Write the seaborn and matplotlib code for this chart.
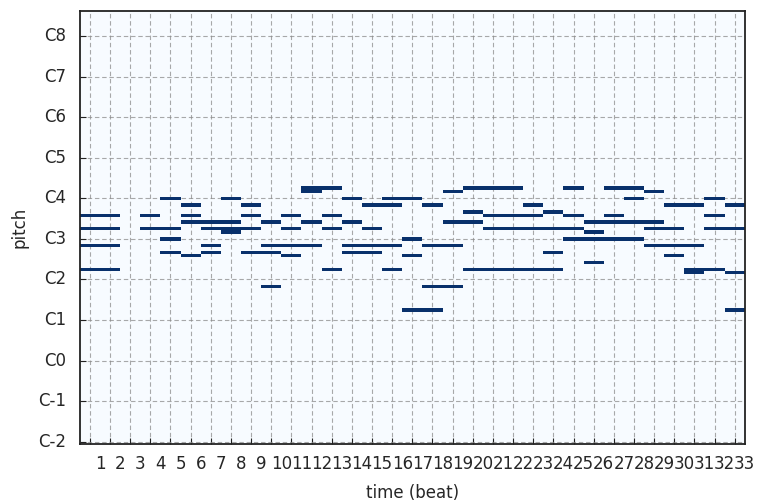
import numpy as np
import matplotlib
matplotlib.use("Agg")
import matplotlib.pyplot as plt
import seaborn as sns

# ---- data: active beats (0-based time steps) for each MIDI pitch ----
n_beats = 33
n_pitches = 128
ytick_labels = ["C-2", "C-1", "C0", "C1", "C2", "C3", "C4", "C5", "C6", "C7", "C8"]
xtick_labels = [str(i) for i in range(1, n_beats + 1)]

beats_p75 = [11, 12, 19, 20, 21, 24, 26, 27]
beats_p74 = [11, 18, 28]
beats_p72 = [4, 7, 13, 15, 16, 27, 31]
beats_p70 = [5, 8, 14, 15, 17, 22, 29, 30, 32]
beats_p68 = [19, 23]
beats_p67 = [0, 1, 3, 5, 8, 10, 12, 20, 21, 22, 24, 26, 31]
beats_p65 = [5, 6, 7, 9, 11, 13, 18, 19, 25, 26, 27, 28]
beats_p63 = [0, 1, 3, 4, 6, 7, 8, 10, 12, 14, 20, 21, 22, 23, 24, 28, 29, 31, 32]
beats_p62 = [7, 25]
beats_p60 = [4, 16, 24, 25, 26, 27]
beats_p58 = [0, 1, 6, 9, 10, 11, 13, 14, 15, 17, 18, 28, 29, 30]
beats_p56 = [4, 6, 8, 9, 13, 14, 23]
beats_p55 = [5, 10, 16, 29]
beats_p53 = [25]
beats_p51 = [0, 1, 12, 15, 19, 20, 21, 22, 23, 30, 31]
beats_p50 = [30, 32]
beats_p46 = [9, 17, 18]
beats_p39 = [16, 17, 32]

pitch_rows = {
    75: beats_p75, 74: beats_p74, 72: beats_p72, 70: beats_p70, 68: beats_p68,
    67: beats_p67, 65: beats_p65, 63: beats_p63, 62: beats_p62, 60: beats_p60,
    58: beats_p58, 56: beats_p56, 55: beats_p55, 53: beats_p53, 51: beats_p51,
    50: beats_p50, 46: beats_p46, 39: beats_p39,
}

roll = np.zeros((n_pitches, n_beats))
for p, beats in pitch_rows.items():
    roll[p, beats] = 1.0

text_color = "#262626"
cmap = plt.get_cmap("Blues")

fig = plt.figure(figsize=(7.6, 5.04), dpi=100)
ax = fig.add_axes([0.105, 0.12, 0.875, 0.859])
ax.set_facecolor(cmap(0.0))
sns.heatmap(roll, mask=(roll == 0), cmap=cmap, vmin=0, vmax=1, cbar=False, ax=ax)
ax.set_ylim(0, n_pitches)
ax.set_xlim(0, n_beats)

ax.set_yticks(np.arange(0, n_pitches, 12) + 0.5)
ax.set_yticklabels(ytick_labels, rotation=0, fontsize=12, color=text_color)
ax.set_xticks(np.arange(n_beats) + 0.5)
ax.set_xticklabels([])
ax.set_xticks(np.arange(1, n_beats + 1), minor=True)
ax.set_xticklabels(xtick_labels, minor=True, fontsize=12, color=text_color)
ax.tick_params(axis="x", which="minor", length=0, pad=8)
ax.tick_params(axis="both", which="major", direction="in", length=4, color="#222222")
ax.tick_params(axis="y", pad=10)

ax.set_axisbelow(True)
ax.grid(True, which="major", color="#8c8c8c", linestyle=(0, (4, 2.5)),
        linewidth=0.8, alpha=0.75)
for s in ax.spines.values():
    s.set_visible(True)
    s.set_linewidth(1.3)
    s.set_color("#222222")
    s.set_zorder(3)

ax.set_xlabel("time (beat)", fontsize=12, color=text_color, labelpad=8)
ax.set_ylabel("pitch", fontsize=12, color=text_color, labelpad=7)

fig.savefig("out.png", dpi=100)
